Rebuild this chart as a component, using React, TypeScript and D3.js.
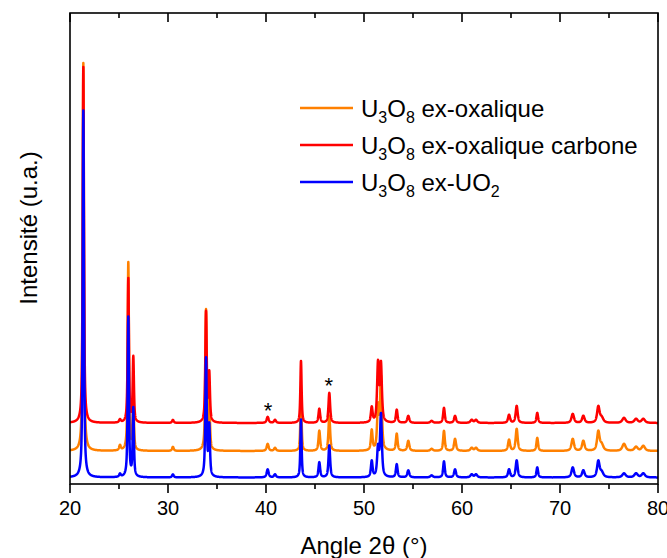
import React from "react";
import * as d3 from "d3";

// Peak positions (degrees 2θ)
const peakAngles = [21.36, 25.1, 25.95, 26.46, 30.5, 33.88, 34.21, 40.17, 40.92, 43.57, 45.44, 46.46, 50.79, 51.43, 51.73, 53.34, 54.52, 56.9, 58.16, 59.29, 60.99, 61.43, 64.8, 65.58, 67.68, 71.3, 72.38, 73.91, 74.25, 76.53, 77.76, 78.5];
// Half widths at half maximum (degrees)
const peakWidths = [0.075, 0.1, 0.075, 0.075, 0.1, 0.085, 0.085, 0.12, 0.12, 0.075, 0.1, 0.1, 0.1, 0.11, 0.11, 0.1, 0.12, 0.15, 0.1, 0.12, 0.15, 0.15, 0.12, 0.12, 0.1, 0.15, 0.15, 0.15, 0.2, 0.2, 0.2, 0.2];
// Peak heights above each pattern's baseline (a.u.)
const orangeHeights = [388, 5, 188, 53, 4, 140, 45, 7, 3, 55, 20, 35, 20, 42, 72, 17, 10, 2, 20, 12, 3, 3, 11, 22, 13, 12, 10, 19, 6, 7, 4, 5];
const redHeights = [356, 3, 144, 65, 3, 110, 48, 6, 3, 62, 14, 30, 15, 58, 57, 13, 7, 2, 15, 7, 3, 3, 8, 17, 10, 9, 7, 16, 5, 5, 4, 4];
const blueHeights = [367, 3, 160, 68, 3, 118, 50, 8, 3, 58, 15, 32, 16, 28, 62, 13, 7, 2, 16, 8, 3, 3, 8, 17, 10, 10, 7, 16, 5, 4, 4, 4];

const seriesNames = ["ex-oxalique", "ex-oxalique carbone", "ex-UO"];
const seriesColors = ["#FF8000", "#FF0000", "#0000FF"];
const seriesOffsets = [33, 61, 6.5];
const seriesHeights = [orangeHeights, redHeights, blueHeights];

const xTicks = [20, 30, 40, 50, 60, 70, 80];
const xMinorTicks = [25, 35, 45, 55, 65, 75];
const starAngles = [40.2, 46.4];
const starLevels = [79, 104];

const W = 667;
const H = 558;
const M = { left: 70, right: 658, top: 13, bottom: 484 };
const FONT = "'Liberation Sans', Arial, Helvetica, sans-serif";

function profile(heights: number[], offset: number, angles: number[]) {
  const eta = 0.7;
  return angles.map((a) => {
    let v = offset;
    for (let i = 0; i < peakAngles.length; i++) {
      const d = (a - peakAngles[i]) / peakWidths[i];
      const L = 1 / (1 + d * d);
      const G = Math.exp(-Math.LN2 * d * d);
      v += heights[i] * (eta * L + (1 - eta) * G);
    }
    return [a, v] as [number, number];
  });
}

export default function App() {
  const x = d3.scaleLinear().domain([20, 80]).range([M.left, M.right]);
  const y = d3.scaleLinear().domain([0, M.bottom - M.top]).range([M.bottom, M.top]);
  const angles = d3.range(20, 80.0001, 0.01);
  const line = d3
    .line<[number, number]>()
    .x((d) => x(d[0]))
    .y((d) => y(d[1]));

  const legendY = [108, 145, 182];

  return (
    <svg
      width={W}
      height={H}
      style={{ position: "absolute", left: 0, top: 0, background: "#fff" }}
      fontFamily={FONT}
    >
      <defs>
        <clipPath id="plotClip">
          <rect x={M.left} y={M.top} width={M.right - M.left} height={M.bottom - M.top} />
        </clipPath>
      </defs>
      <rect width={W} height={H} fill="#fff" />
      <g clipPath="url(#plotClip)">
        {seriesHeights.map((hs, i) => (
          <path
            key={i}
            d={line(profile(hs, seriesOffsets[i], angles)) || ""}
            fill="none"
            stroke={seriesColors[i]}
            strokeWidth={2.5}
            strokeLinejoin="round"
          />
        ))}
      </g>
      {/* frame */}
      <rect
        x={M.left}
        y={M.top}
        width={M.right - M.left}
        height={M.bottom - M.top}
        fill="none"
        stroke="#000"
        strokeWidth={1.6}
      />
      {/* ticks and labels */}
      {xTicks.map((t) => (
        <g key={"b" + t}>
          <line x1={x(t)} x2={x(t)} y1={M.bottom} y2={M.bottom + 9} stroke="#000" strokeWidth={1.6} />
          <line x1={x(t)} x2={x(t)} y1={M.top} y2={M.top + 9} stroke="#000" strokeWidth={1.6} />
          <text x={x(t)} y={M.bottom + 31} fontSize={20} textAnchor="middle" fill="#000">
            {t}
          </text>
        </g>
      ))}
      {xMinorTicks.map((t) => (
        <g key={"m" + t}>
          <line x1={x(t)} x2={x(t)} y1={M.bottom} y2={M.bottom + 5} stroke="#000" strokeWidth={1.6} />
          <line x1={x(t)} x2={x(t)} y1={M.top} y2={M.top + 5} stroke="#000" strokeWidth={1.6} />
        </g>
      ))}
      {/* axis titles */}
      <text x={(M.left + M.right) / 2} y={554} fontSize={24} textAnchor="middle" fill="#000">
        Angle 2θ (°)
      </text>
      <text
        transform={`translate(37, 228) rotate(-90)`}
        fontSize={24}
        textAnchor="middle"
        fill="#000"
      >
        Intensité (u.a.)
      </text>
      {/* asterisks */}
      {starAngles.map((a, i) => (
        <text key={"s" + i} x={x(a)} y={y(starLevels[i]) + 13} fontSize={22} textAnchor="middle" fill="#000">
          *
        </text>
      ))}
      {/* legend */}
      {seriesNames.map((n, i) => (
        <g key={"l" + i}>
          <line x1={300} x2={353} y1={legendY[i]} y2={legendY[i]} stroke={seriesColors[i]} strokeWidth={2.5} />
          <text x={361} y={legendY[i] + 9} fontSize={24} fill="#000">
            U
            <tspan fontSize={16} dy={6}>3</tspan>
            <tspan dy={-6}>O</tspan>
            <tspan fontSize={16} dy={6}>8</tspan>
            <tspan dy={-6}>{" " + n}</tspan>
            {i === 2 ? (
              <tspan fontSize={16} dy={6}>2</tspan>
            ) : null}
          </text>
        </g>
      ))}
    </svg>
  );
}
